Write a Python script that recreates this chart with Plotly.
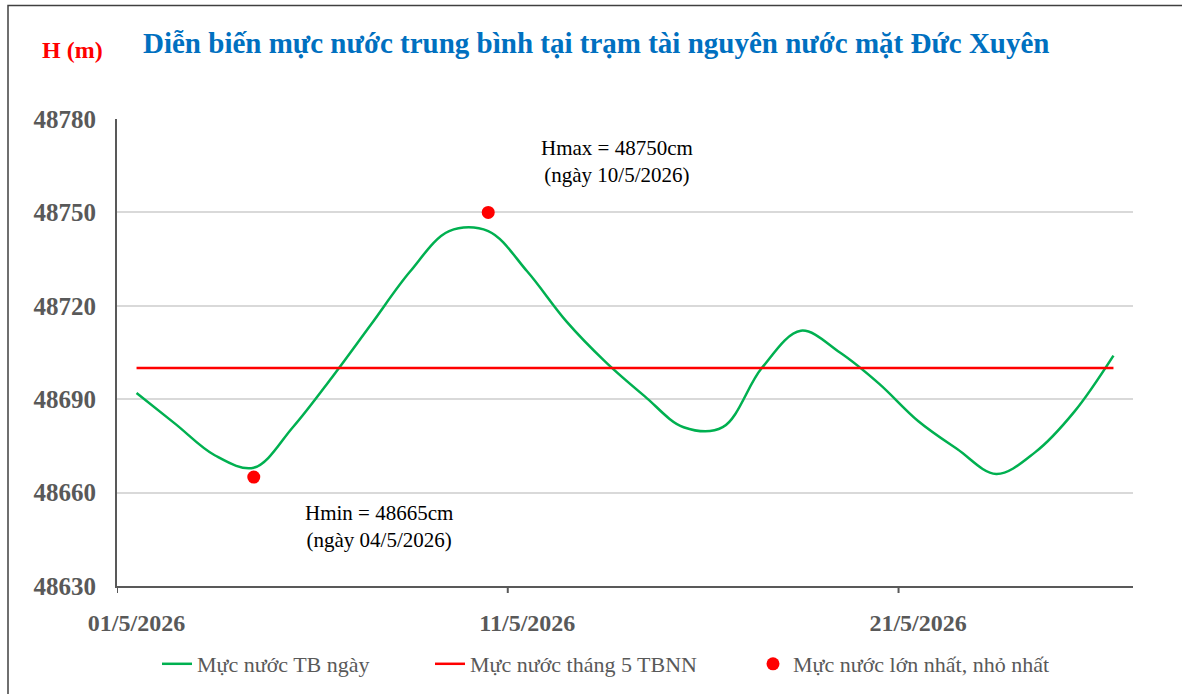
import plotly.graph_objects as go

# ---- data ----
dates = ["01/5/2026", "02/5/2026", "03/5/2026", "04/5/2026", "05/5/2026", "06/5/2026",
         "07/5/2026", "08/5/2026", "09/5/2026", "10/5/2026", "11/5/2026", "12/5/2026",
         "13/5/2026", "14/5/2026", "15/5/2026", "16/5/2026", "17/5/2026", "18/5/2026",
         "19/5/2026", "20/5/2026", "21/5/2026", "22/5/2026", "23/5/2026", "24/5/2026",
         "25/5/2026", "26/5/2026"]
daily_level = [48692, 48682, 48672, 48668, 48681, 48697, 48714, 48731, 48744, 48744,
               48731, 48715, 48702, 48691, 48681, 48681, 48700, 48712, 48705, 48695,
               48683, 48674, 48666, 48673, 48686, 48704]
tbnn_level = 48700
extreme_dates = ["04/5/2026", "10/5/2026"]
extreme_values = [48665, 48750]
tick_dates = ["01/5/2026", "11/5/2026", "21/5/2026"]
y_ticks = [48630, 48660, 48690, 48720, 48750, 48780]

idx = list(range(len(dates)))
ext_idx = [dates.index(d) for d in extreme_dates]
tick_idx = [dates.index(d) for d in tick_dates]

GRAY = "#595959"
SERIF = "Liberation Serif"

fig = go.Figure()
fig.add_trace(go.Scatter(
    x=idx, y=daily_level, mode="lines", name="Mực nước TB ngày", legend="legend",
    line=dict(color="#00B050", width=2.5, shape="spline", smoothing=1.0)))
fig.add_trace(go.Scatter(
    x=idx, y=[tbnn_level] * len(idx), mode="lines", name="Mực nước tháng 5 TBNN",
    legend="legend2", line=dict(color="#FF0000", width=2.5)))
fig.add_trace(go.Scatter(
    x=ext_idx, y=extreme_values, mode="markers", name="Mực nước lớn nhất, nhỏ nhất",
    legend="legend3", marker=dict(color="#FF0000", size=13)))

# annotations for extremes
for i, v in zip(ext_idx, extreme_values):
    lbl = "Hmax" if v == max(extreme_values) else "Hmin"
    if lbl == "Hmax":
        ax_x, ax_y = i + 3.3, v + 16.5
    else:
        ax_x, ax_y = i + 3.2, v - 15.8
    fig.add_annotation(x=ax_x, y=ax_y, xref="x", yref="y", showarrow=False,
                       xanchor="center", yanchor="middle",
                       text=f"{lbl} = {v}cm<br>(ngày {dates[i]})",
                       font=dict(family=SERIF, size=21, color="#000000"),
                       align="center")

# title and unit label
fig.add_annotation(xref="paper", yref="paper", x=(596 - 117) / 1016, y=(586 - 43) / 467,
                   xanchor="center", yanchor="middle",
                   text="<b>Diễn biến mực nước trung bình tại trạm tài nguyên nước mặt Đức Xuyên</b>",
                   showarrow=False, font=dict(family=SERIF, size=29, color="#0070C0"))
fig.add_annotation(xref="paper", yref="paper", x=(72 - 117) / 1016, y=(586 - 50) / 467,
                   xanchor="center", yanchor="middle",
                   text="<b>H (m)</b>", showarrow=False,
                   font=dict(family=SERIF, size=24, color="#FF0000"))

# category-boundary tick marks
shapes = []
for t in tick_idx:
    shapes.append(dict(type="line", xref="x", yref="paper", x0=t - 0.5, x1=t - 0.5,
                       y0=0, y1=-7 / 467, line=dict(color=GRAY, width=2)))
# outer chart border (partly cropped)
shapes.append(dict(type="rect", xref="paper", yref="paper",
                   x0=(8 - 117) / 1016, x1=(1200 - 117) / 1016,
                   y0=(586 - 720) / 467, y1=(586 - 5.5) / 467,
                   line=dict(color="#404040", width=1.5), layer="below"))

leg_common = dict(orientation="h", xref="container", yref="container",
                  xanchor="left", y=1 - 664 / 694, yanchor="middle",
                  font=dict(family=SERIF, size=22, color=GRAY), itemwidth=30)

fig.update_layout(
    width=1182, height=694,
    margin=dict(l=117, r=49, t=119, b=108, autoexpand=False),
    paper_bgcolor="white", plot_bgcolor="white",
    shapes=shapes,
    showlegend=True,
    legend=dict(x=157 / 1182, **leg_common),
    legend2=dict(x=430 / 1182, **leg_common),
    legend3=dict(x=753 / 1182, **leg_common),
    xaxis=dict(range=[-0.5, len(dates) - 0.5], tickvals=tick_idx,
               ticktext=[f"<b>{t}</b>" for t in tick_dates],
               ticks="", showgrid=False, zeroline=False,
               showline=True, linecolor=GRAY, linewidth=2,
               tickfont=dict(family=SERIF, size=24, color=GRAY),
               ticklabelstandoff=14, fixedrange=True),
    yaxis=dict(range=[min(y_ticks), max(y_ticks)], tickvals=y_ticks,
               ticktext=[f"<b>{v}</b>" for v in y_ticks],
               ticks="", showgrid=True, gridcolor="#D9D9D9", gridwidth=1.5,
               zeroline=False, showline=True, linecolor=GRAY, linewidth=2,
               tickfont=dict(family=SERIF, size=25, color=GRAY),
               ticklabelstandoff=14, fixedrange=True),
)

fig.write_html("out.html", config={"displayModeBar": False},
               post_script="document.body.style.margin='0';document.body.style.overflow='hidden';")
